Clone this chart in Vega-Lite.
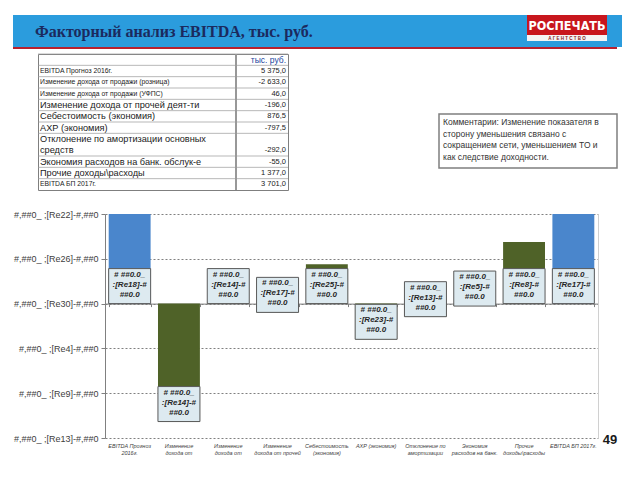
{
  "$schema": "https://vega.github.io/schema/vega-lite/v6.json",
  "background": "white",
  "padding": {"left": 13, "top": 15, "right": 0, "bottom": 0},
  "spacing": 0,
  "config": {
    "view": {"stroke": null},
    "font": "Liberation Sans",
    "axis": {"labelFont": "Liberation Sans"},
    "locale": {"number": {"decimal": ",", "thousands": " ", "grouping": [3], "currency": ["", ""], "minus": "-"}}
  },
  "datasets": {
    "none": [],
    "factors": [
      {"factor": "EBITDA Прогноз 2016г.", "value": 5375, "kind": "итог", "label": "# ##0.0_\n:[Re18]-#\n##0.0"},
      {"factor": "Изменение дохода от продажи (розница)", "value": -2633, "kind": "изменение", "label": "# ##0.0_\n:[Re14]-#\n##0.0"},
      {"factor": "Изменение дохода от продажи (УФПС)", "value": 46, "kind": "изменение", "label": "# ##0.0_\n:[Re14]-#\n##0.0"},
      {"factor": "Изменение дохода от прочей деят-ти", "value": -196, "kind": "изменение", "label": "# ##0.0_\n:[Re17]-#\n##0.0"},
      {"factor": "Себестоимость (экономия)", "value": 876.5, "kind": "изменение", "label": "# ##0.0_\n:[Re25]-#\n##0.0"},
      {"factor": "АХР (экономия)", "value": -797.5, "kind": "изменение", "label": "# ##0.0_\n:[Re23]-#\n##0.0"},
      {"factor": "Отклонение по амортизации основных средств", "value": -292, "kind": "изменение", "label": "# ##0.0_\n:[Re13]-#\n##0.0"},
      {"factor": "Экономия расходов на банк. обслук-е", "value": -55, "kind": "изменение", "label": "# ##0.0_\n:[Re5]-#\n##0.0"},
      {"factor": "Прочие доходы\\расходы", "value": 1377, "kind": "изменение", "label": "# ##0.0_\n:[Re8]-#\n##0.0"},
      {"factor": "EBITDA БП 2017г.", "value": 3701, "kind": "итог", "label": "# ##0.0_\n:[Re17]-#\n##0.0"}
    ],
    "table": [
      {"line": "", "unit": "тыс. руб."},
      {"line": "EBITDA Прогноз 2016г.", "value": 5375},
      {"line": "Изменение дохода от продажи (розница)", "value": -2633},
      {"line": "Изменение дохода от продажи (УФПС)", "value": 46},
      {"line": "Изменение дохода от прочей деят-ти", "value": -196},
      {"line": "Себестоимость (экономия)", "value": 876.5},
      {"line": "АХР (экономия)", "value": -797.5},
      {"line": "Отклонение по амортизации основных"},
      {"line": "средств", "value": -292},
      {"line": "Экономия расходов на банк. обслук-е", "value": -55},
      {"line": "Прочие доходы\\расходы", "value": 1377},
      {"line": "EBITDA БП 2017г.", "value": 3701}
    ]
  },
  "vconcat": [
    {
      "hconcat": [
        {
          "width": 514, "height": 32,
          "data": {"name": "none"},
          "mark": {"type": "text", "text": ""},
          "view": {"fill": "#2B9CDD"},
          "title": {"text": "Факторный анализ EBITDA, тыс. руб.", "orient": "bottom", "anchor": "start", "frame": "group", "offset": -22.6, "dx": 22, "baseline": "top", "font": "Liberation Serif", "fontSize": 16, "fontWeight": "bold", "color": "#1B2A5E"}
        },
        {
          "vconcat": [
            {
              "width": 80, "height": 20,
              "data": {"name": "none"},
              "mark": {"type": "text", "text": ""},
              "view": {"fill": "#C8161D"},
              "title": {"text": "РОСПЕЧАТЬ", "orient": "bottom", "anchor": "middle", "frame": "group", "offset": -15, "baseline": "top", "font": "'Liberation Sans Narrow', 'DejaVu Sans Condensed', 'Liberation Sans'", "fontSize": 12.5, "fontWeight": "bold", "color": "white"}
            },
            {
              "width": 80, "height": 6,
              "data": {"name": "none"},
              "mark": {"type": "text", "text": ""},
              "view": {"fill": "#F4F4F4"},
              "title": {"text": "А Г Е Н Т С Т В О", "orient": "bottom", "anchor": "middle", "frame": "group", "offset": -4.6, "baseline": "top", "fontSize": 4.5, "fontWeight": "bold", "color": "#8B1A1A"}
            },
            {
              "width": 80, "height": 6,
              "data": {"name": "none"},
              "mark": {"type": "text", "text": ""},
              "view": {"fill": "#2B9CDD"}
            }
          ],
          "spacing": 0
        },
        {
          "width": 15, "height": 32,
          "data": {"name": "none"},
          "mark": {"type": "text", "text": ""},
          "view": {"fill": "#2B9CDD"}
        }
      ],
      "spacing": 0
    },
    {
      "width": 604, "height": 2,
      "data": {"name": "none"},
      "mark": {"type": "text", "text": ""},
      "view": {"fill": "#B8202F"}
    },
    {
      "width": 10, "height": 4,
      "data": {"name": "none"},
      "mark": {"type": "text", "text": ""}
    },
    {
      "hconcat": [
        {
          "width": 24, "height": 1,
          "data": {"name": "none"},
          "mark": {"type": "text", "text": ""}
        },
        {
          "width": 250, "height": 136,
          "data": {"name": "table"},
          "view": {"stroke": "#7F7F7F", "strokeWidth": 1},
          "layer": [
            {
              "transform": [{"filter": "datum.line != 'средств'"}],
              "mark": {"type": "rule", "color": "#999999", "strokeWidth": 0.7},
              "encoding": {
                "y": {"field": "line", "type": "nominal", "sort": null, "bandPosition": 0,
                  "scale": {"paddingInner": 0, "paddingOuter": 0, "domain": ["", "EBITDA Прогноз 2016г.", "Изменение дохода от продажи (розница)", "Изменение дохода от продажи (УФПС)", "Изменение дохода от прочей деят-ти", "Себестоимость (экономия)", "АХР (экономия)", "Отклонение по амортизации основных", "средств", "Экономия расходов на банк. обслук-е", "Прочие доходы\\расходы", "EBITDA БП 2017г."]},
                  "axis": null}
              }
            },
            {
              "mark": {"type": "rule", "color": "#999999", "strokeWidth": 0.7},
              "encoding": {
                "x": {"datum": 0.792, "type": "quantitative", "scale": {"domain": [0, 1]}, "axis": null}
              }
            },
            {
              "mark": {"type": "text", "align": "left", "dx": 2, "color": "#1A1A1A", "font": "Liberation Sans"},
              "encoding": {
                "x": {"datum": 0, "type": "quantitative", "scale": {"domain": [0, 1]}, "axis": null},
                "y": {"field": "line", "type": "nominal", "sort": null, "axis": null},
                "text": {"field": "line"},
                "size": {"condition": {"test": "indexof(['EBITDA Прогноз 2016г.', 'Изменение дохода от продажи (розница)', 'Изменение дохода от продажи (УФПС)', 'EBITDA БП 2017г.'], datum.line) >= 0", "value": 6.8}, "value": 9.2}
              }
            },
            {
              "transform": [{"filter": "isValid(datum.value)"}],
              "mark": {"type": "text", "align": "right", "dx": -2, "fontSize": 7.5, "color": "#1A1A1A"},
              "encoding": {
                "x": {"datum": 1, "type": "quantitative", "scale": {"domain": [0, 1]}, "axis": null},
                "y": {"field": "line", "type": "nominal", "sort": null, "axis": null},
                "text": {"field": "value", "type": "quantitative", "format": ",.1f"}
              }
            },
            {
              "transform": [{"filter": "isValid(datum.unit)"}],
              "mark": {"type": "text", "align": "right", "dx": -2, "fontSize": 8.5, "color": "#2446A0"},
              "encoding": {
                "x": {"datum": 1, "type": "quantitative", "scale": {"domain": [0, 1]}, "axis": null},
                "y": {"field": "line", "type": "nominal", "sort": null, "axis": null},
                "text": {"field": "unit"}
              }
            }
          ]
        },
        {
          "width": 149, "height": 1,
          "data": {"name": "none"},
          "mark": {"type": "text", "text": ""}
        },
        {
          "vconcat": [
            {
              "width": 178, "height": 59,
              "data": {"name": "none"},
              "mark": {"type": "text", "text": ""}
            },
            {
              "width": 178, "height": 54,
              "data": {"name": "none"},
              "mark": {"type": "text", "text": ""},
              "view": {"stroke": "#7F7F7F", "strokeWidth": 1.5, "fill": "white"},
              "title": {"text": ["Комментарии: Изменение показателя в", "сторону уменьшения связано с", "сокращением сети, уменьшением ТО и", "как следствие доходности."], "orient": "bottom", "anchor": "start", "frame": "group", "offset": -50, "dx": 4, "baseline": "top", "font": "Liberation Sans", "fontSize": 8.5, "fontWeight": "normal", "color": "#333333", "lineHeight": 11.5}
            }
          ],
          "spacing": 0
        }
      ],
      "spacing": 0
    },
    {
      "width": 10, "height": 19,
      "data": {"name": "none"},
      "mark": {"type": "text", "text": ""}
    },
    {
      "hconcat": [
        {
          "width": 92, "height": 1,
          "data": {"name": "none"},
          "mark": {"type": "text", "text": ""}
        },
        {
          "width": 493, "height": 224,
          "data": {"name": "factors"},
          "layer": [
            {
              "mark": {"type": "bar", "clip": true},
              "encoding": {
                "x": {"field": "factor", "type": "nominal", "sort": null,
                  "scale": {"paddingInner": 0.15, "paddingOuter": 0.075, "domain": ["EBITDA Прогноз 2016г.", "Изменение дохода от продажи (розница)", "Изменение дохода от продажи (УФПС)", "Изменение дохода от прочей деят-ти", "Себестоимость (экономия)", "АХР (экономия)", "Отклонение по амортизации основных средств", "Экономия расходов на банк. обслук-е", "Прочие доходы\\расходы", "EBITDA БП 2017г."]},
                  "axis": {"title": null, "domain": false, "ticks": false, "labelAngle": 0, "labelFontSize": 5.5, "labelFontStyle": "italic", "labelColor": "#404040", "labelPadding": 5, "labelLineHeight": 7, "labelBaseline": "top",
                    "labelExpr": "datum.label == 'EBITDA Прогноз 2016г.' ? ['EBITDA Прогноз', '2016г.'] : datum.label == 'Изменение дохода от продажи (розница)' ? ['Изменение', 'дохода от'] : datum.label == 'Изменение дохода от продажи (УФПС)' ? ['Изменение', 'дохода от'] : datum.label == 'Изменение дохода от прочей деят-ти' ? ['Изменение', 'дохода от прочей'] : datum.label == 'Себестоимость (экономия)' ? ['Себестоимость', '(экономия)'] : datum.label == 'Отклонение по амортизации основных средств' ? ['Отклонение по', 'амортизации'] : datum.label == 'Экономия расходов на банк. обслук-е' ? ['Экономия', 'расходов на банк.'] : indexof(datum.label, 'Прочие') == 0 ? ['Прочие', 'доходы\\\\расходы'] : datum.label"}},
                "y": {"field": "value", "type": "quantitative",
                  "scale": {"domain": [-3000, 2000], "nice": false, "zero": false},
                  "axis": {"title": null, "values": [-3000, -2000, -1000, 0, 1000, 2000], "grid": true, "gridDash": [2, 2], "gridColor": "#808080", "domainColor": "#808080", "tickColor": "#808080", "tickSize": 4, "labelPadding": 3, "labelFontSize": 9, "labelColor": "#404040",
                    "labelExpr": "datum.value == 2000 ? '#,##0_ ;[Re22]-#,##0' : datum.value == 1000 ? '#,##0_ ;[Re26]-#,##0' : datum.value == 0 ? '#,##0_ ;[Re30]-#,##0' : datum.value == -1000 ? '#,##0_ ;[Re4]-#,##0' : datum.value == -2000 ? '#,##0_ ;[Re9]-#,##0' : '#,##0_ ;[Re13]-#,##0'"}},
                "color": {"field": "kind", "type": "nominal", "scale": {"domain": ["итог", "изменение"], "range": ["#4A86CC", "#4F6228"]}, "legend": null}
              }
            },
            {
              "transform": [{"filter": "datum.value < 0"}],
              "mark": {"type": "point", "shape": "M-1,-1.667H1V0H-1Z", "size": 1764, "filled": true, "fill": "#DDEAF0", "stroke": "#5A5A5A", "strokeWidth": 1, "opacity": 1},
              "encoding": {
                "x": {"field": "factor", "type": "nominal", "sort": null,
                  "scale": {"domain": ["EBITDA Прогноз 2016г.", "Изменение дохода от продажи (розница)", "Изменение дохода от продажи (УФПС)", "Изменение дохода от прочей деят-ти", "Себестоимость (экономия)", "АХР (экономия)", "Отклонение по амортизации основных средств", "Экономия расходов на банк. обслук-е", "Прочие доходы\\расходы", "EBITDA БП 2017г."]},
                  "axis": {"title": null, "orient": "bottom", "offset": -134.4, "labels": false, "ticks": true, "tickBand": "extent", "tickSize": 3, "tickColor": "#808080", "domainColor": "#808080", "grid": false}},
                "y": {"field": "value", "type": "quantitative", "scale": {"domain": [-3000, 2000], "nice": false, "zero": false},
                  "axis": {"title": null, "orient": "right", "labels": false, "ticks": false, "grid": false, "domainColor": "#D0D0D0"}}
              }
            },
            {
              "transform": [{"filter": "datum.value >= 0"}],
              "mark": {"type": "point", "shape": "M-1,-1.667H1V0H-1Z", "size": 1764, "filled": true, "fill": "#DDEAF0", "stroke": "#5A5A5A", "strokeWidth": 1, "opacity": 1},
              "encoding": {
                "x": {"field": "factor", "type": "nominal", "sort": null,
                  "scale": {"domain": ["EBITDA Прогноз 2016г.", "Изменение дохода от продажи (розница)", "Изменение дохода от продажи (УФПС)", "Изменение дохода от прочей деят-ти", "Себестоимость (экономия)", "АХР (экономия)", "Отклонение по амортизации основных средств", "Экономия расходов на банк. обслук-е", "Прочие доходы\\расходы", "EBITDA БП 2017г."]},
                  "axis": null},
                "y": {"datum": 0, "type": "quantitative", "scale": {"domain": [-3000, 2000], "nice": false, "zero": false}, "axis": null}
              }
            },
            {
              "transform": [{"filter": "datum.value < 0"}],
              "mark": {"type": "text", "baseline": "top", "dy": -33, "lineBreak": "\n", "lineHeight": 10, "fontSize": 8, "fontWeight": "bold", "fontStyle": "italic", "color": "#262626"},
              "encoding": {
                "x": {"field": "factor", "type": "nominal", "sort": null,
                  "scale": {"domain": ["EBITDA Прогноз 2016г.", "Изменение дохода от продажи (розница)", "Изменение дохода от продажи (УФПС)", "Изменение дохода от прочей деят-ти", "Себестоимость (экономия)", "АХР (экономия)", "Отклонение по амортизации основных средств", "Экономия расходов на банк. обслук-е", "Прочие доходы\\расходы", "EBITDA БП 2017г."]},
                  "axis": null},
                "y": {"field": "value", "type": "quantitative", "scale": {"domain": [-3000, 2000], "nice": false, "zero": false}, "axis": null},
                "text": {"field": "label"}
              }
            },
            {
              "transform": [{"filter": "datum.value >= 0"}],
              "mark": {"type": "text", "baseline": "top", "dy": -33, "lineBreak": "\n", "lineHeight": 10, "fontSize": 8, "fontWeight": "bold", "fontStyle": "italic", "color": "#262626"},
              "encoding": {
                "x": {"field": "factor", "type": "nominal", "sort": null,
                  "scale": {"domain": ["EBITDA Прогноз 2016г.", "Изменение дохода от продажи (розница)", "Изменение дохода от продажи (УФПС)", "Изменение дохода от прочей деят-ти", "Себестоимость (экономия)", "АХР (экономия)", "Отклонение по амортизации основных средств", "Экономия расходов на банк. обслук-е", "Прочие доходы\\расходы", "EBITDA БП 2017г."]},
                  "axis": null},
                "y": {"datum": 0, "type": "quantitative", "scale": {"domain": [-3000, 2000], "nice": false, "zero": false}, "axis": null},
                "text": {"field": "label"}
              }
            }
          ],
          "resolve": {"axis": {"x": "independent", "y": "independent"}}
        },
        {
          "width": 24, "height": 224,
          "data": {"name": "none"},
          "mark": {"type": "text", "text": ""},
          "title": {"text": "49", "orient": "bottom", "anchor": "middle", "frame": "group", "offset": -4, "baseline": "top", "fontSize": 13, "fontWeight": "bold", "color": "#1A1A1A"}
        }
      ],
      "spacing": 0,
      "bounds": "flush"
    }
  ]
}
